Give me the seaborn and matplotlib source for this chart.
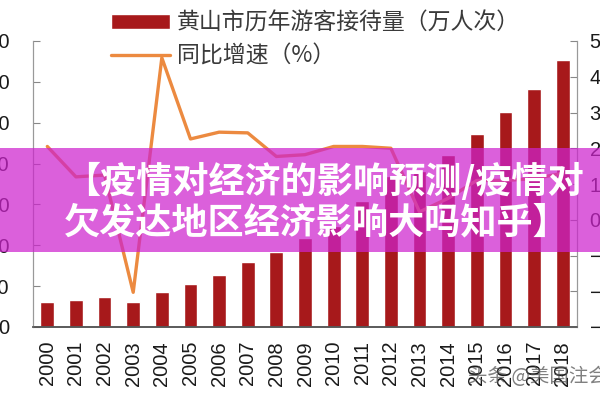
import numpy as np
import pandas as pd
import matplotlib
matplotlib.use("Agg")
import matplotlib.pyplot as plt
import seaborn as sns
from matplotlib.patches import Rectangle

# ---------------- data ----------------
years = [str(y) for y in range(2000, 2019)]
visitors = [600, 665, 745, 600, 860, 1050, 1280, 1580, 1830, 2180,
            2480, 3080, 3700, 3820, 4200, 4720, 5250, 5820, 6540]
growth = [20.5, 12.0, 12.5, -20.3, 45.3, 22.6, 24.5, 24.3, 17.7, 18.2,
          20.5, 20.5, 20.0, 2.2, 6.0, 11.0, 11.0, 11.5, 13.0]
left_ticks = [0, 1000, 2000, 3000, 4000, 5000, 6000, 7000]
right_ticks = [-30, -20, -10, 0, 10, 20, 30, 40, 50]
bar_label = "黄山市历年游客接待量（万人次）"
line_label = "同比增速（%）"
banner_text = "【疫情对经济的影响预测/疫情对\n欠发达地区经济影响大吗知乎】"
watermark = "头条 @美国注会"

df = pd.DataFrame({"year": years, "pos": np.arange(len(years)),
                   "visitors": visitors, "growth": growth})

# ---------------- style ----------------
sns.set_style("white")
plt.rcParams["font.family"] = ["Liberation Sans", "Noto Sans CJK SC", "DejaVu Sans"]
CJK = ["Noto Sans CJK SC", "DejaVu Sans"]

BAR = "#A7191B"
LINE = "#EC8A40"

fig = plt.figure(figsize=(6, 4), dpi=100)
ax = fig.add_axes([33 / 600, 73 / 400, 544 / 600, 286 / 400])

sns.barplot(data=df, x="year", y="visitors", color=BAR, saturation=1,
            width=0.48, ax=ax, zorder=2)
ax.set_xlim(-0.5, len(years) - 0.5)
ax.set_ylim(left_ticks[0], left_ticks[-1])
ax.set_yticks(left_ticks)
ax.set_xlabel("")
ax.set_ylabel("")

ax2 = ax.twinx()
sns.lineplot(data=df, x="pos", y="growth", color=LINE, lw=2.4, ax=ax2,
             zorder=3)
ax2.set_ylim(right_ticks[0], right_ticks[-1])
ax2.set_yticks(right_ticks)
ax2.set_xlim(-0.5, len(years) - 0.5)
ax2.set_ylabel("")
ax2.set_xlabel("")

# ticks
ax.set_xticks(range(len(years)))
ax.set_xticklabels(years, rotation=90, fontsize=14.5, color="#1a1a1a")
ax.tick_params(axis="x", which="major", length=0, pad=10)
ax.set_xticks(np.arange(-0.5, len(years), 1.0), minor=True)
ax.tick_params(axis="x", which="minor", direction="in", length=4,
               color="#777", width=0.8)
ax.tick_params(axis="y", direction="in", length=5, pad=17, color="#888",
               labelsize=14.5, labelcolor="#1a1a1a")
ax2.tick_params(axis="y", direction="in", length=5, pad=9, color="#888",
                labelsize=14.5, labelcolor="#1a1a1a")

for a in (ax, ax2):
    a.spines["top"].set_visible(False)
    a.spines["left"].set_color("#999")
    a.spines["right"].set_color("#999")
    a.spines["bottom"].set_color("#555")
    a.spines["bottom"].set_linewidth(1.1)
    a.grid(False)

# legend
handles = [ax.patches[0], ax2.lines[0]]
leg = fig.legend(handles, [bar_label, line_label], loc="upper left",
                 bbox_to_anchor=(100 / 600, 1.0), frameon=False,
                 borderpad=0, handlelength=2.55, handleheight=0.62,
                 handletextpad=0.3, labelspacing=0.45,
                 prop={"family": CJK, "size": 16.5})
for t in leg.get_texts():
    t.set_color("#3a3a3a")

# banner overlay
fig.add_artist(Rectangle((0, 148 / 400), 1, 104 / 400,
                         transform=fig.transFigure,
                         facecolor=(205 / 255, 35 / 255, 205 / 255),
                         alpha=0.72, edgecolor="none", zorder=10))
fig.text(64 / 600, 1 - 202 / 400, banner_text, ha="left", va="center",
         fontsize=26, fontweight="bold", color="white", linespacing=1.1,
         family=CJK, zorder=11)

# watermark
fig.text(468 / 600, 1 - 377 / 400, watermark, ha="left", va="center",
         fontsize=14, color="#555", alpha=0.75, family=CJK, zorder=11)

fig.savefig("out.png", dpi=100)
